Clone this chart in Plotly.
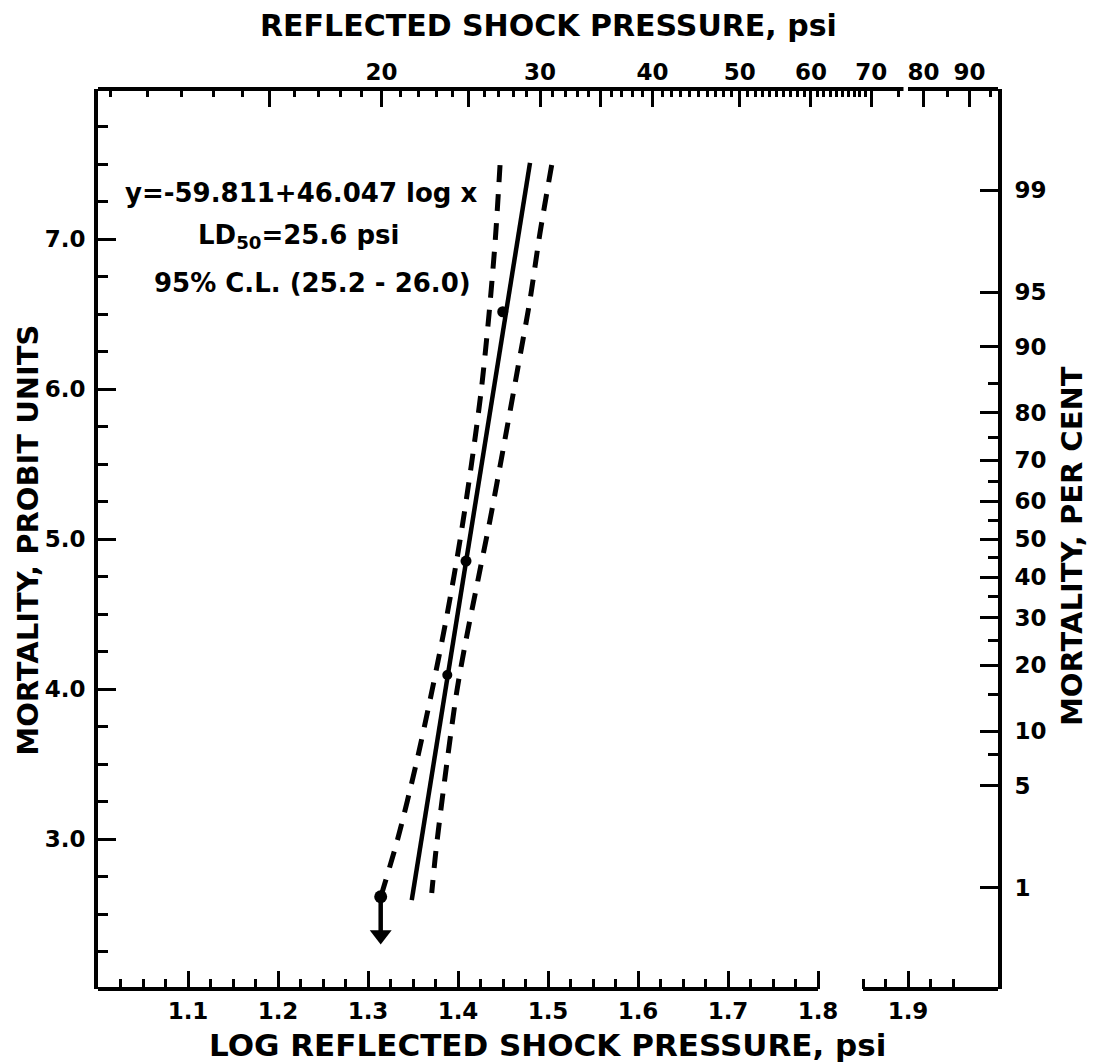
import math
import plotly.graph_objects as go
from statistics import NormalDist

# ---------------- data ----------------
# fitted probit line (log pressure, probit)
fit_log = [1.3486, 1.480]
fit_probit = [2.593, 7.507]

# 95% confidence limits (dashed curves)
cl_left_log = [1.4467, 1.4415, 1.4345, 1.4260, 1.4150, 1.4025, 1.3880, 1.3715, 1.3535, 1.3330, 1.3141]
cl_left_probit = [7.493, 7.000, 6.500, 6.000, 5.500, 5.000, 4.500, 4.000, 3.500, 3.000, 2.613]
cl_right_log = [1.5041, 1.4911, 1.4800, 1.4667, 1.4500, 1.4356, 1.4222, 1.4089, 1.3989, 1.3856, 1.3756, 1.3708]
cl_right_probit = [7.493, 7.040, 6.593, 6.147, 5.593, 5.127, 4.727, 4.327, 3.993, 3.413, 2.927, 2.640]

# observed points
obs_log = [1.4497, 1.4089, 1.3881, 1.3141]
obs_probit = [6.515, 4.853, 4.093, 2.615]
arrow_head_probit = 2.36   # lowest point: value below (arrow head centre)

# tick labels
bottom_ticks = [1.1, 1.2, 1.3, 1.4, 1.5, 1.6, 1.7, 1.8, 1.9]
left_ticks = [3.0, 4.0, 5.0, 6.0, 7.0]
top_label_psi = [20, 30, 40, 50, 60, 70, 80, 90]
top_long_psi = [15, 25, 35]
right_major_pct = [1, 5, 10, 20, 30, 40, 50, 60, 70, 80, 90, 95, 99]
right_minor_pct = [7.5, 15, 25, 35, 45, 55, 65, 75, 85]

equation_lines = ["y=-59.811+46.047 log x",
                  "LD<sub>50</sub>=25.6 psi",
                  "95% C.L. (25.2 - 26.0)"]

# ---------------- scales ----------------
nd = NormalDist()
def probit(pct):
    return 5.0 + nd.inv_cdf(pct / 100.0)

X_RANGE = [1.0, 2.0]
TOP_RANGE = [0.986, 1.986]   # top scale is drawn slightly offset in the original
Y_RANGE = [2.0, 8.0]

bottom_minor = [round(1.0 + 0.025 * i, 3) for i in range(1, 40)]
bottom_minor = [v for v in bottom_minor
                if abs(v * 10 - round(v * 10)) > 1e-6 and v not in (1.825, 1.975)]

top_minor_psi = [p for p in range(10, 70)
                 if p not in top_label_psi and p not in top_long_psi] + [75, 85, 95]

FONT = "DejaVu Sans"
BLACK = "black"

fig = go.Figure()

# dashed confidence limits
dash_style = dict(color=BLACK, width=5, dash="17px,12px")
fig.add_trace(go.Scatter(x=cl_left_log, y=cl_left_probit, mode="lines",
                         line=dict(shape="spline", smoothing=0.8, **dash_style),
                         hoverinfo="skip", showlegend=False))
fig.add_trace(go.Scatter(x=cl_right_log, y=cl_right_probit, mode="lines",
                         line=dict(shape="spline", smoothing=0.8, **dash_style),
                         hoverinfo="skip", showlegend=False))
# solid regression line
fig.add_trace(go.Scatter(x=fit_log, y=fit_probit, mode="lines",
                         line=dict(color=BLACK, width=4.5),
                         hoverinfo="skip", showlegend=False))
# arrow below the lowest point (shaft + head)
fig.add_trace(go.Scatter(x=[obs_log[3], obs_log[3]], y=[obs_probit[3], arrow_head_probit],
                         mode="lines", line=dict(color=BLACK, width=4.5),
                         hoverinfo="skip", showlegend=False))
fig.add_trace(go.Scatter(x=[obs_log[3]], y=[arrow_head_probit], mode="markers",
                         marker=dict(symbol="triangle-down", size=19, color=BLACK,
                                     line=dict(width=0)),
                         hoverinfo="skip", showlegend=False))
# observed points
fig.add_trace(go.Scatter(x=obs_log, y=obs_probit, mode="markers",
                         marker=dict(color=BLACK, size=[11, 11, 10, 13], opacity=1,
                                     line=dict(width=0, color=BLACK)),
                         hoverinfo="skip", showlegend=False))
# dummy traces to activate extra axes
fig.add_trace(go.Scatter(x=[None], y=[None], xaxis="x2", yaxis="y2",
                         showlegend=False, hoverinfo="skip"))
fig.add_trace(go.Scatter(x=[None], y=[None], xaxis="x3", yaxis="y",
                         showlegend=False, hoverinfo="skip"))

tickfont = dict(family=FONT, size=23, color=BLACK, weight="bold")

fig.update_layout(
    width=1095, height=1063,
    margin=dict(l=98, r=97, t=89, b=74),
    paper_bgcolor="white", plot_bgcolor="white",
    showlegend=False,
    xaxis=dict(range=X_RANGE, tickmode="array", tickvals=bottom_ticks,
               ticktext=[f"{v:.1f}" for v in bottom_ticks],
               ticks="inside", ticklen=18, tickwidth=3, tickcolor=BLACK,
               showline=False, showgrid=False, zeroline=False, automargin=False,
               tickfont=tickfont, ticklabelstandoff=6,
               minor=dict(tickmode="array", tickvals=bottom_minor, ticks="inside",
                          ticklen=10, tickwidth=3, tickcolor=BLACK, showgrid=False)),
    xaxis2=dict(range=TOP_RANGE, overlaying="x", side="top", anchor="y",
                tickmode="array", tickvals=[math.log10(p) for p in top_label_psi],
                ticktext=[str(p) for p in top_label_psi],
                ticks="inside", ticklen=18, tickwidth=3, tickcolor=BLACK,
                showline=False, showgrid=False, zeroline=False, automargin=False,
                tickfont=tickfont, ticklabelstandoff=3,
                minor=dict(tickmode="array",
                           tickvals=[math.log10(p) for p in top_minor_psi],
                           ticks="inside", ticklen=8, tickwidth=2.5,
                           tickcolor=BLACK, showgrid=False)),
    xaxis3=dict(range=TOP_RANGE, overlaying="x", side="top", anchor="y",
                tickmode="array", tickvals=[math.log10(p) for p in top_long_psi],
                showticklabels=False,
                ticks="inside", ticklen=18, tickwidth=3, tickcolor=BLACK,
                showline=False, showgrid=False, zeroline=False, automargin=False),
    yaxis=dict(range=Y_RANGE, tickmode="array", tickvals=left_ticks,
               ticktext=[f"{v:.1f}" for v in left_ticks],
               ticks="inside", ticklen=18, tickwidth=3, tickcolor=BLACK,
               showline=True, linewidth=4, linecolor=BLACK, mirror=False,
               showgrid=False, zeroline=False, automargin=False,
               tickfont=tickfont, ticklabelstandoff=4,
               minor=dict(dtick=0.25, tick0=2.0, ticks="inside", ticklen=10,
                          tickwidth=3, tickcolor=BLACK, showgrid=False)),
    yaxis2=dict(range=Y_RANGE, overlaying="y", side="right", anchor="x",
                tickmode="array", tickvals=[probit(p) for p in right_major_pct],
                ticktext=[str(p) for p in right_major_pct],
                ticks="inside", ticklen=18, tickwidth=3, tickcolor=BLACK,
                showline=True, linewidth=4, linecolor=BLACK,
                showgrid=False, zeroline=False, automargin=False,
                tickfont=tickfont, ticklabelstandoff=8,
                minor=dict(tickmode="array",
                           tickvals=[probit(p) for p in right_minor_pct],
                           ticks="inside", ticklen=10, tickwidth=3,
                           tickcolor=BLACK, showgrid=False)),
)

# bottom and top frame lines (with the breaks of the original)
line_style = dict(color=BLACK, width=4)
for x0, x1 in [(1.0, 1.8), (1.85, 2.0)]:
    fig.add_shape(type="line", xref="x", yref="paper", x0=x0, x1=x1, y0=0, y1=0,
                  line=line_style)
for x0, x1 in [(0.986, 1.881), (1.886, 1.986)]:
    fig.add_shape(type="line", xref="x2", yref="paper", x0=x0, x1=x1, y0=1, y1=1,
                  line=line_style)

# axis titles
title_font = dict(family=FONT, size=30, color=BLACK, weight="bold")
fig.add_annotation(text="REFLECTED SHOCK PRESSURE, psi", xref="paper", yref="paper",
                   x=0.501, y=1.070, showarrow=False, font=title_font,
                   xanchor="center", yanchor="middle")
fig.add_annotation(text="LOG REFLECTED SHOCK PRESSURE, psi", xref="paper", yref="paper",
                   x=0.499, y=-0.0625, showarrow=False,
                   font=dict(family=FONT, size=31, color=BLACK, weight="bold"),
                   xanchor="center", yanchor="middle")
fig.add_annotation(text="MORTALITY, PROBIT UNITS", xref="paper", yref="paper",
                   x=-0.078, y=0.499, showarrow=False, textangle=-90,
                   font=dict(family=FONT, size=29, color=BLACK, weight="bold"),
                   xanchor="center", yanchor="middle")
fig.add_annotation(text="MORTALITY, PER CENT", xref="paper", yref="paper",
                   x=1.082, y=0.492, showarrow=False, textangle=-90,
                   font=dict(family=FONT, size=29, color=BLACK, weight="bold"),
                   xanchor="center", yanchor="middle")

# equation block
eq_font = dict(family=FONT, size=26, color=BLACK, weight="bold")
for txt, xp, yp in zip(equation_lines, [0.2256, 0.2233, 0.2378], [0.885, 0.836, 0.784]):
    fig.add_annotation(text=txt, xref="paper", yref="paper", x=xp, y=yp,
                       showarrow=False, font=eq_font, xanchor="center", yanchor="middle")

fig.write_html("out.html")
